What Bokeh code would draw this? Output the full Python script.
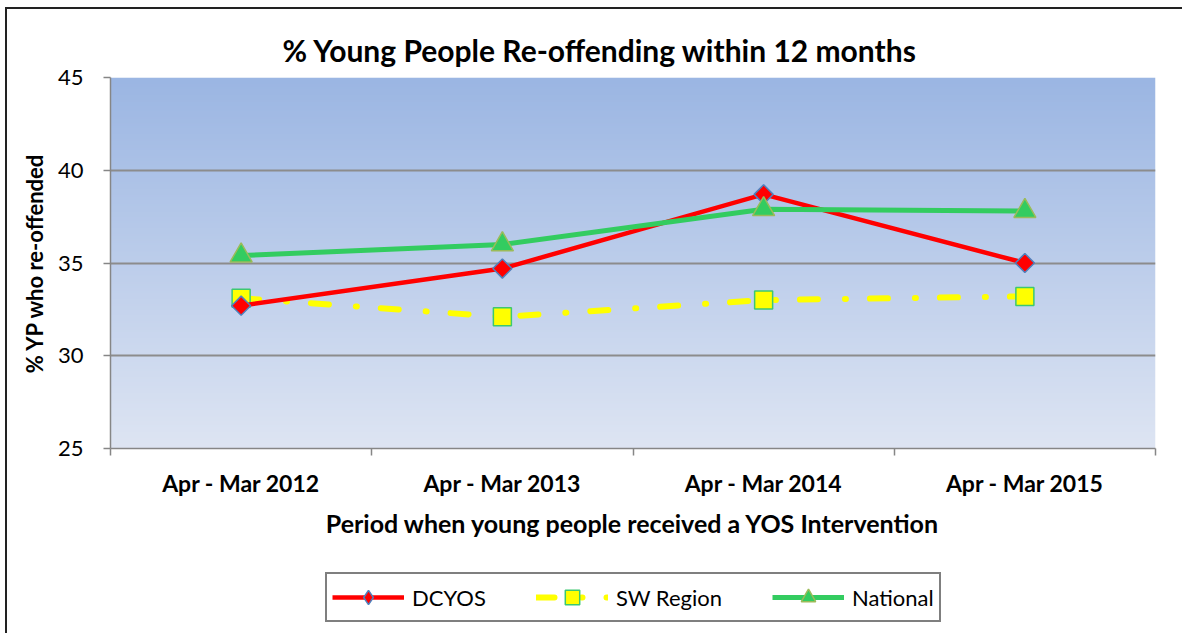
import numpy as np
from bokeh.plotting import figure
from bokeh.layouts import column
from bokeh.models import (Range1d, FixedTicker, Legend, LegendItem, ColumnDataSource)
from bokeh.embed import file_html
from bokeh.resources import INLINE

categories = ["Apr - Mar 2012", "Apr - Mar 2013", "Apr - Mar 2014", "Apr - Mar 2015"]
dcyos = [32.7, 34.7, 38.7, 35.0]
sw_region = [33.1, 32.1, 33.0, 33.2]
national = [35.4, 36.0, 37.9, 37.8]
y_ticks = [25, 30, 35, 40, 45]

FONT = "Lato"
W = 1175

xs = [i + 0.5 for i in range(len(categories))]

p = figure(width=W, height=536, output_backend="svg", toolbar_location=None,
           x_range=Range1d(0, len(categories)), y_range=Range1d(25, 45),
           min_border_left=103, min_border_top=68, min_border_right=27, min_border_bottom=97)
p.outline_line_color = None
p.background_fill_color = "white"

# gradient plot-area background
n = 200
top = np.array([155, 182, 227])
bot = np.array([222, 229, 243])
t = np.linspace(0, 1, n)[:, None]
cols = (bot * (1 - t) + top * t).astype(np.uint32)
img = np.empty((n, 1), dtype=np.uint32)
view = img.view(dtype=np.uint8).reshape((n, 1, 4))
view[:, 0, 0] = cols[:, 0]
view[:, 0, 1] = cols[:, 1]
view[:, 0, 2] = cols[:, 2]
view[:, 0, 3] = 255
bg = p.image_rgba(image=[img], x=0, y=25, dw=len(categories), dh=20)
bg.level = "image"

# title
p.title.text = "% Young People Re-offending within 12 months"
p.title.text_font = FONT
p.title.text_font_size = "30px"
p.title.text_font_style = "bold"
p.title.text_color = "black"
p.title.align = "left"
p.title.offset = 172
p.title.standoff = 19

# axes
p.xaxis.ticker = FixedTicker(ticks=xs, minor_ticks=list(range(len(categories) + 1)))
p.xaxis.major_label_overrides = {x: c for x, c in zip(xs, categories)}
p.xaxis.major_tick_out = 0
p.xaxis.major_tick_in = 0
p.xaxis.minor_tick_out = 7
p.xaxis.minor_tick_in = 0
p.xaxis.minor_tick_line_color = "#868686"
p.xaxis.minor_tick_line_width = 1.5
p.xaxis.major_label_standoff = 13
p.xaxis.major_label_text_font = FONT
p.xaxis.major_label_text_font_style = "bold"
p.xaxis.major_label_text_font_size = "23px"
p.xaxis.major_label_text_color = "black"
p.xaxis.axis_label = "Period when young people received a YOS Intervention"
p.xaxis.axis_label_text_font = FONT
p.xaxis.axis_label_text_font_style = "bold"
p.xaxis.axis_label_text_font_size = "25px"
p.xaxis.axis_label_text_color = "black"
p.xaxis.axis_label_standoff = 8
p.xaxis.axis_line_color = "#868686"
p.xaxis.axis_line_width = 1.5

p.yaxis.ticker = FixedTicker(ticks=y_ticks)
p.yaxis.minor_tick_line_color = None
p.yaxis.major_tick_out = 7
p.yaxis.major_tick_in = 0
p.yaxis.major_tick_line_color = "#868686"
p.yaxis.major_tick_line_width = 1.5
p.yaxis.major_label_standoff = 20
p.yaxis.major_label_text_font = FONT
p.yaxis.major_label_text_font_size = "22px"
p.yaxis.major_label_text_color = "black"
p.yaxis.axis_label = "% YP who re-offended"
p.yaxis.axis_label_text_font = FONT
p.yaxis.axis_label_text_font_style = "bold"
p.yaxis.axis_label_text_font_size = "22px"
p.yaxis.axis_label_text_color = "black"
p.yaxis.axis_label_standoff = 7
p.yaxis.axis_line_color = "#868686"
p.yaxis.axis_line_width = 1.5

p.xgrid.grid_line_color = None
p.ygrid.grid_line_color = "#8c8c8c"
p.ygrid.grid_line_width = 2

src = ColumnDataSource(dict(x=xs, d=dcyos, s=sw_region, n=national))

sty_sw_line = dict(line_color="#ffff00", line_width=6, line_dash="18 27 1 24", line_cap="round")
sty_sw_mark = dict(marker="square", size=18, fill_color="#ffff00", line_color="#3cc870", line_width=1.5)
sty_d_line = dict(line_color="#ff0000", line_width=4.5)
sty_d_mark = dict(marker="square", angle=np.pi / 4, size=13.5, fill_color="#ff0000",
                  line_color="#4f81bd", line_width=1.5)
sty_d_mark_leg = dict(marker="diamond", size=20, fill_color="#ff0000",
                      line_color="#4f81bd", line_width=1.5)
sty_n_line = dict(line_color="#33cc60", line_width=5)
sty_n_mark = dict(marker="triangle", size=22, fill_color="#33cc60", line_color="#9bbb59", line_width=1.5)

p.line("x", "s", source=src, **sty_sw_line)
p.scatter("x", "s", source=src, **sty_sw_mark)
p.line("x", "d", source=src, **sty_d_line)
p.scatter("x", "d", source=src, **sty_d_mark)
p.line("x", "n", source=src, **sty_n_line)
p.scatter("x", "n", source=src, **sty_n_mark)

# legend panel below (separate canvas so it is not clipped); its glyphs lie outside its range
q = figure(width=W, height=88, output_backend="svg", toolbar_location=None,
           x_range=Range1d(0, 1), y_range=Range1d(0, 1), min_border=0,
           x_axis_location=None, y_axis_location=None)
q.outline_line_color = None
q.grid.grid_line_color = None
ld = [q.line("x", "d", source=src, **sty_d_line), q.scatter("x", "d", source=src, **sty_d_mark_leg)]
ls = [q.line("x", "s", source=src, **sty_sw_line), q.scatter("x", "s", source=src, **sty_sw_mark)]
ln = [q.line("x", "n", source=src, **sty_n_line), q.scatter("x", "n", source=src, **sty_n_mark)]

legend = Legend(items=[
    LegendItem(label="DCYOS", renderers=ld),
    LegendItem(label="SW Region", renderers=ls),
    LegendItem(label="National", renderers=ln),
], orientation="horizontal", location=(215, 11))
legend.label_text_font = FONT
legend.label_text_font_size = "22px"
legend.label_text_color = "black"
legend.glyph_width = 72
legend.glyph_height = 36
legend.label_standoff = 8
legend.spacing = 50
legend.padding = 5
legend.margin = 0
legend.border_line_color = "#000000"
legend.border_line_width = 2
legend.background_fill_color = "white"
q.add_layout(legend, "center")

layout = column(p, q, spacing=0)
layout.styles = {"border-left": "2px solid #222", "border-top": "2px solid #222",
                 "margin-left": "5px", "margin-top": "7px"}

open("out.html", "w").write(file_html(layout, INLINE))
